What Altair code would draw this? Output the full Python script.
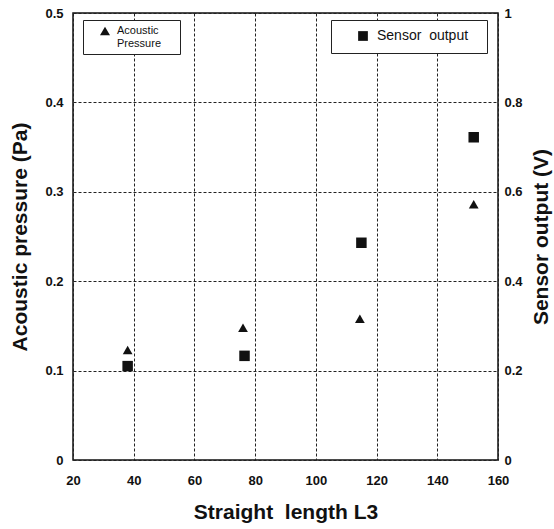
import altair as alt
import pandas as pd

# Data
length_p = [38, 76, 114.5, 152]
pressure = [0.123, 0.148, 0.158, 0.286]
length_s = [38, 76.5, 115, 152]
sensor = [0.21, 0.233, 0.486, 0.722]

df_p = pd.DataFrame({"L": length_p, "P": pressure, "s": ["Acoustic|Pressure"] * len(length_p)})
df_s = pd.DataFrame({"L": length_s, "V": sensor, "s": ["Sensor\u00a0\u00a0output"] * len(length_s)})

FONT = "Liberation Sans"

xenc = alt.X("L:Q", title="Straight\u00a0\u00a0length L3",
             scale=alt.Scale(domain=[20, 160], nice=False, zero=False),
             axis=alt.Axis(values=[20, 40, 60, 80, 100, 120, 140, 160], ticks=False, domain=False,
                           labelPadding=14, titlePadding=14, grid=True, labelFlush=False,
                           gridDash=[3, 2], gridColor="#222", gridWidth=1))

pts_p = alt.Chart(df_p).mark_point(filled=True, color="#111", opacity=1, size=95).encode(
    x=xenc,
    y=alt.Y("P:Q", title="Acoustic pressure (Pa)",
            scale=alt.Scale(domain=[0, 0.5], nice=False),
            axis=alt.Axis(values=[0, 0.1, 0.2, 0.3, 0.4, 0.5], ticks=False, domain=False,
                          labelPadding=10, titlePadding=14, grid=True, orient="left",
                          gridDash=[3, 2], gridColor="#222", gridWidth=1,
                          labelExpr="datum.value == 0 ? '0' : format(datum.value, '.1f')")),
    shape=alt.Shape("s:N", scale=alt.Scale(domain=["Acoustic|Pressure"], range=["triangle-up"]),
                    legend=alt.Legend(title="\u00a0", titleOrient="right", titlePadding=14,
                                      titleFontSize=8,
                                      orient="none", legendX=10, legendY=7,
                                      strokeColor="#222", fillColor="white", padding=5,
                                      symbolFillColor="#111", symbolStrokeColor="#111",
                                      symbolSize=100, symbolOffset=11, labelOffset=6,
                                      labelFont=FONT, labelFontSize=11, labelColor="#111",
                                      labelExpr="split(datum.label, '|')")),
)

pts_s = alt.Chart(df_s).mark_point(filled=True, color="#111", opacity=1, size=110).encode(
    x=xenc,
    y=alt.Y("V:Q", title="Sensor output (V)",
            scale=alt.Scale(domain=[0, 1], nice=False),
            axis=alt.Axis(values=[0, 0.2, 0.4, 0.6, 0.8, 1], ticks=False, domain=False,
                          labelPadding=6, titlePadding=29, titleAngle=-90, grid=False, orient="right",
                          labelExpr="datum.value == 0 ? '0' : datum.value == 1 ? '1' : format(datum.value, '.1f')")),
    shape=alt.Shape("s:N", scale=alt.Scale(domain=["Sensor\u00a0\u00a0output"], range=["square"]),
                    legend=alt.Legend(title="\u00a0", titleOrient="right", titlePadding=10,
                                      titleFontSize=8,
                                      orient="none", legendX=258, legendY=7,
                                      strokeColor="#222", fillColor="white", padding=9,
                                      symbolFillColor="#111", symbolStrokeColor="#111",
                                      symbolSize=95, symbolOffset=16, labelOffset=7,
                                      labelFont=FONT, labelFontSize=14, labelColor="#111")),
)

chart = alt.layer(pts_p, pts_s).resolve_scale(y="independent", shape="independent").resolve_legend(
    shape="independent"
).properties(
    width=425, height=447,
    autosize=alt.AutoSizeParams(type="none"),
    padding={"left": 73, "top": 13, "right": 56, "bottom": 69},
).configure_view(
    stroke="#111", strokeWidth=1.5
).configure_axis(
    labelFont=FONT, labelFontSize=13, labelFontWeight="bold", labelColor="#111",
    titleFont=FONT, titleFontSize=21, titleFontWeight="bold", titleColor="#111",
)

chart.save("out.html", embed_options={"renderer": "svg", "actions": False})
